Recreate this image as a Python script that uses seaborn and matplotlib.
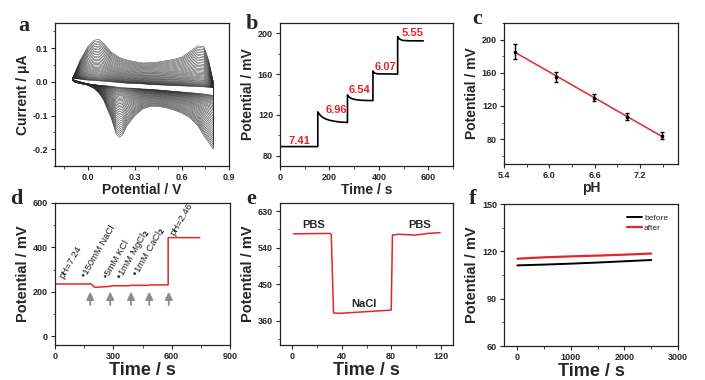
import numpy as np
import pandas as pd
import matplotlib
matplotlib.use("Agg")
import matplotlib.pyplot as plt
from matplotlib.ticker import MultipleLocator, FormatStrFormatter
import seaborn as sns

sns.set_style("ticks")
plt.rcParams['font.family'] = ['Liberation Sans', 'DejaVu Sans']
plt.rcParams['font.weight'] = 'bold'
plt.rcParams['axes.labelweight'] = 'bold'
plt.rcParams['axes.unicode_minus'] = False

RED = '#e3262b'

# ---- a: repeated CV cycles (outer / innermost cycle)
cv_potential = [-0.10, -0.08, -0.05, 0.0, 0.04, 0.07, 0.10, 0.15, 0.18, 0.20, 0.22, 0.25,
                0.30, 0.35, 0.40, 0.45, 0.50, 0.55, 0.60, 0.65, 0.70, 0.74, 0.77, 0.80]
cv_outer_fwd = [0.008, 0.030, 0.064, 0.105, 0.124, 0.126, 0.115, 0.088, 0.079, 0.073, 0.069, 0.065,
                0.060, 0.056, 0.057, 0.059, 0.063, 0.067, 0.074, 0.090, 0.107, 0.105, 0.065, 0.000]
cv_outer_rev = [0.004, -0.002, -0.005, -0.010, -0.020, -0.033, -0.054, -0.110, -0.155, -0.165, -0.158, -0.130,
                -0.100, -0.080, -0.073, -0.073, -0.077, -0.084, -0.093, -0.106, -0.130, -0.160, -0.180, -0.200]
cv_inner_fwd = [0.012, 0.010, 0.008, 0.005, 0.004, 0.003, 0.002, 0.000, -0.001, -0.002, -0.003, -0.004,
                -0.005, -0.006, -0.008, -0.009, -0.010, -0.011, -0.012, -0.013, -0.014, -0.015, -0.016, -0.017]
cv_inner_rev = [0.008, 0.004, 0.000, -0.006, -0.008, -0.010, -0.011, -0.013, -0.015, -0.016, -0.017, -0.018,
                -0.019, -0.021, -0.022, -0.024, -0.026, -0.028, -0.030, -0.032, -0.034, -0.036, -0.038, -0.040]
cv_cycle_frac = [0.0, 0.01, 0.02, 0.03, 0.045, 0.06, 0.075, 0.09, 0.11, 0.13, 0.15, 0.17, 0.195, 0.22,
                 0.245, 0.27, 0.30, 0.33, 0.36, 0.39, 0.42, 0.455, 0.49, 0.525, 0.56, 0.60, 0.64,
                 0.68, 0.72, 0.76, 0.80, 0.84, 0.88, 0.92, 0.96, 1.0]

# ---- b: potential steps
b_time = [0, 153, 153, 160, 170, 185, 200, 220, 245, 273, 273, 280, 290, 305, 330, 376,
          376, 382, 395, 476, 476, 482, 495, 520, 580]
b_mv = [89, 89, 123, 120.5, 118, 116, 114.8, 113.8, 113, 112.6, 139.6, 137.5, 136, 135, 134.3, 134,
        163, 161, 160.2, 160, 196.7, 194.5, 193, 192.6, 192.5]
b_labels = ['7.41', '6.96', '6.54', '6.07', '5.55']
b_label_t = [80, 227, 320, 427, 537]
b_label_mv = [94.5, 125, 144, 167, 200]

# ---- c: calibration
c_ph = [5.55, 6.09, 6.59, 7.02, 7.49]
c_mv = [185.5, 155, 130, 107, 84]
c_err = [9, 6, 4.5, 4.5, 4]

# ---- d: interference
d_time = [0, 175, 180, 190, 200, 210, 280, 290, 380, 390, 480, 490, 582, 582, 745]
d_mv = [235, 235, 237, 232, 222, 220, 224, 227, 227, 229, 229, 231, 231, 444, 444]
d_arrow_t = [181, 284, 391, 485, 585]
d_notes = ['pH=7.24', '\u2022150mM NaCl', '\u20225mM KCl', '\u20221mM MgCl$_2$', '\u20221mM CaCl$_2$', 'pH=2.46']
d_note_t = [52, 167, 280, 356, 435, 623]
d_note_mv = [251, 257, 251, 239, 251, 447]

# ---- e: PBS / NaCl switching
e_time = [0.8, 30, 31.5, 33.3, 38, 80, 81, 86, 99.5, 110, 119.5]
e_mv = [574, 575, 573, 379, 378, 386, 571, 573, 571, 575, 577]
e_labels = ['PBS', 'NaCl', 'PBS']
e_label_t = [17.6, 58, 102.7]
e_label_mv = [597, 402, 597]

# ---- f: stability
f_time = [0, 500, 1000, 1500, 2000, 2500]
f_before = [111.1, 111.6, 112.2, 112.9, 113.7, 114.5]
f_after = [115.3, 116.2, 116.8, 117.3, 117.9, 118.6]

fig = plt.figure(figsize=(7.05, 3.8), dpi=100)


def place(l, r, t, b):
    return fig.add_axes([l / 705, 1 - b / 380, (r - l) / 705, (b - t) / 380])


def style(ax, xmaj, ymaj, xfmt=None, yfmt=None):
    ax.xaxis.set_major_locator(MultipleLocator(xmaj))
    ax.xaxis.set_minor_locator(MultipleLocator(xmaj / 2))
    ax.yaxis.set_major_locator(MultipleLocator(ymaj))
    ax.yaxis.set_minor_locator(MultipleLocator(ymaj / 2))
    if xfmt:
        ax.xaxis.set_major_formatter(FormatStrFormatter(xfmt))
    if yfmt:
        ax.yaxis.set_major_formatter(FormatStrFormatter(yfmt))
    ax.tick_params(which='major', length=3, width=0.8, labelsize=6.5, pad=2)
    ax.tick_params(which='minor', length=1.8, width=0.6)
    for s in ax.spines.values():
        s.set_linewidth(0.9)
        s.set_color('#222222')


# a
ax = place(55, 229, 23, 166)
rows = []
for k, f in enumerate(cv_cycle_frac):
    fwd = [i0 + f * (o - i0) for i0, o in zip(cv_inner_fwd, cv_outer_fwd)]
    rev = [i0 + f * (o - i0) for i0, o in zip(cv_inner_rev, cv_outer_rev)]
    e_all = cv_potential + cv_potential[::-1] + [cv_potential[0]]
    i_all = fwd + rev[::-1] + [fwd[0]]
    for n, (e, i) in enumerate(zip(e_all, i_all)):
        rows.append({'E': e, 'I': i, 'cycle': k, 'n': n})
cv_df = pd.DataFrame(rows)
sns.lineplot(data=cv_df, x='E', y='I', units='cycle', estimator=None, sort=False,
             color='#2a2a2a', lw=0.35, ax=ax)
ax.set_xlim(-0.21, 0.9)
ax.set_ylim(-0.25, 0.175)
style(ax, 0.3, 0.1, '%.1f', '%.1f')
ax.set_xlabel('Potential / V', fontsize=10, labelpad=1)
ax.set_ylabel('Current / \u03bcA', fontsize=10, labelpad=2)

# b
ax = place(280, 453, 23, 166)
sns.lineplot(x=b_time, y=b_mv, estimator=None, sort=False, color='k', lw=1.2, ax=ax)
for txt, t, v in zip(b_labels, b_label_t, b_label_mv):
    ax.text(t, v, txt, color=RED, fontsize=8, ha='center', va='center')
ax.set_xlim(0, 700)
ax.set_ylim(70, 210)
style(ax, 200, 40)
ax.set_xlabel('Time / s', fontsize=10, labelpad=1)
ax.set_ylabel('Potential / mV', fontsize=10, labelpad=2)

# c
ax = place(504, 678, 23, 164)
sns.regplot(x=c_ph, y=c_mv, ci=None, scatter=False, truncate=True,
            line_kws={'color': RED, 'lw': 1.1}, ax=ax)
ax.errorbar(c_ph, c_mv, yerr=c_err, fmt='s', ms=2, color='k', ecolor='k',
            elinewidth=1, capsize=1.5, capthick=1)
ax.set_xlim(5.4, 7.7)
ax.set_ylim(50, 220)
style(ax, 0.6, 40, '%.1f')
ax.set_xlabel('pH', fontsize=10, labelpad=1)
ax.set_ylabel('Potential / mV', fontsize=10, labelpad=2)

# d
ax = place(55, 230, 203, 345)
sns.lineplot(x=d_time, y=d_mv, estimator=None, sort=False, color=RED, lw=1.1, ax=ax)
for t in d_arrow_t:
    ax.annotate('', xy=(t, 200), xytext=(t, 140),
                arrowprops=dict(arrowstyle='-|>,head_length=0.45,head_width=0.22',
                                color='#8c8c8c', lw=1.3, mutation_scale=10,
                                shrinkA=0, shrinkB=0))
for txt, t, v in zip(d_notes, d_note_t, d_note_mv):
    ax.text(t, v, txt, rotation=60, fontsize=6.8, fontweight='normal', color='#1a1a1a',
            ha='left', va='bottom', rotation_mode='anchor')
ax.set_xlim(0, 900)
ax.set_ylim(-40, 600)
style(ax, 300, 200)
ax.set_xlabel('Time / s', fontsize=13, labelpad=1)
ax.set_ylabel('Potential / mV', fontsize=10.5, labelpad=2)

# e
ax = place(280, 453, 203, 345)
sns.lineplot(x=e_time, y=e_mv, estimator=None, sort=False, color=RED, lw=1.1, ax=ax)
for txt, t, v in zip(e_labels, e_label_t, e_label_mv):
    ax.text(t, v, txt, fontsize=8, ha='center', va='center')
ax.set_xlim(-10, 130)
ax.set_ylim(300, 650)
style(ax, 40, 90)
ax.set_xlabel('Time / s', fontsize=13, labelpad=1)
ax.set_ylabel('Potential / mV', fontsize=10.5, labelpad=2)

# f
ax = place(504, 678, 204, 346)
sns.lineplot(x=f_time, y=f_before, color='k', lw=1.4, label='before', ax=ax)
sns.lineplot(x=f_time, y=f_after, color=RED, lw=1.6, label='after', ax=ax)
ax.legend(loc='upper right', frameon=False, handlelength=1.8,
          handletextpad=0.3, labelspacing=0.3, borderaxespad=0.8,
          prop={'size': 6, 'weight': 'normal'})
ax.set_xlim(-250, 3000)
ax.set_ylim(60, 150)
style(ax, 1000, 30)
ax.set_xlabel('Time / s', fontsize=13, labelpad=1)
ax.set_ylabel('Potential / mV', fontsize=10.5, labelpad=2)

for letter, x, y in [('a', 24, 26), ('b', 252, 24), ('c', 477, 19),
                     ('d', 16, 199), ('e', 251, 199), ('f', 473, 199)]:
    fig.text(x / 705, 1 - y / 380, letter, family='Liberation Serif', fontsize=16,
             fontweight='bold', ha='center', va='center')

fig.savefig('out.png', dpi=100)
